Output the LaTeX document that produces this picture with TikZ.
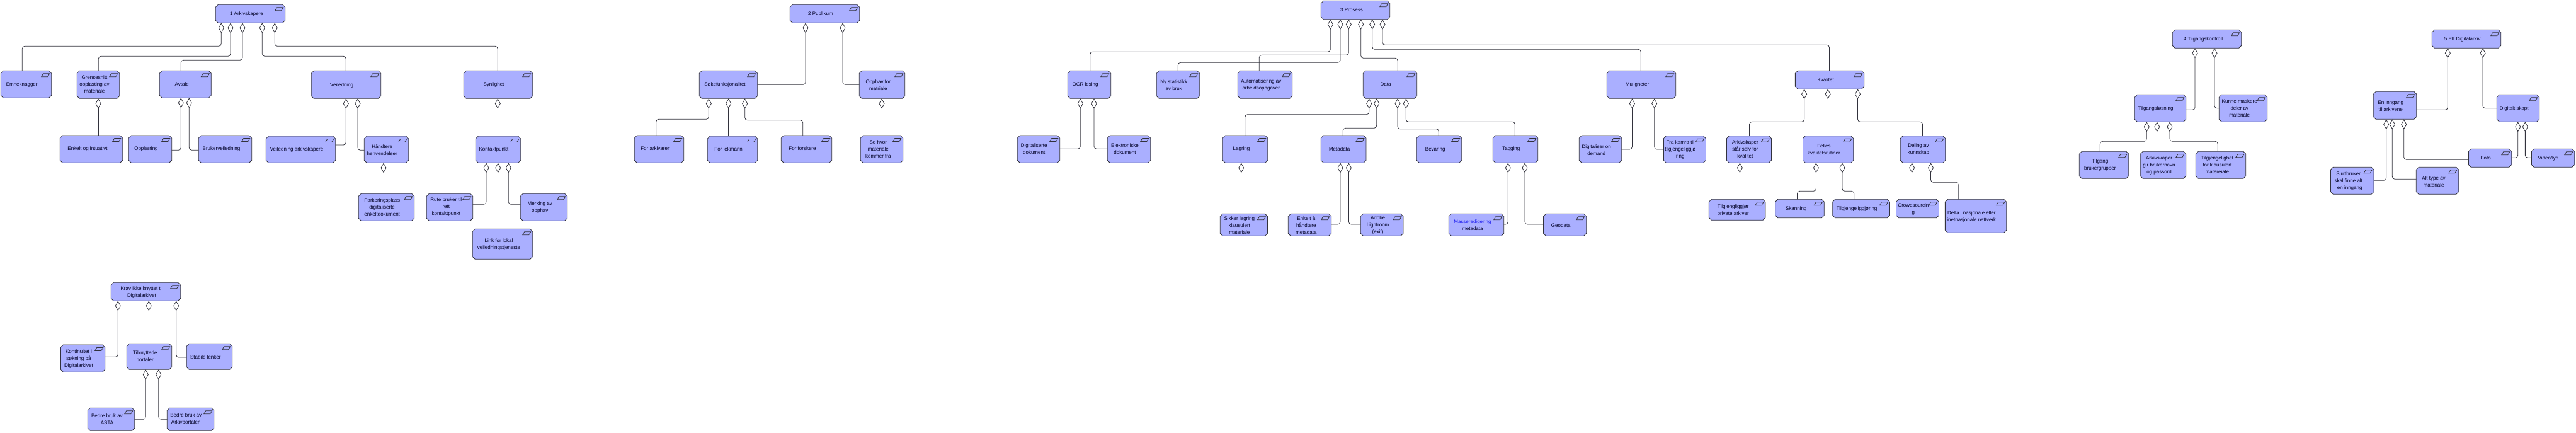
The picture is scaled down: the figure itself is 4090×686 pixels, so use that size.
\documentclass[tikz,border=0pt]{standalone}
\usepackage{fontspec}
\setmainfont{Liberation Sans}
\usepackage{xcolor}
\usetikzlibrary{arrows.meta,shapes.misc}

\definecolor{goalfill}{RGB}{170,175,255}
\definecolor{goalline}{RGB}{50,50,60}
\definecolor{linkblue}{RGB}{30,30,240}

\tikzset{
  wh/.style 2 args={minimum width=#1,minimum height=#2},
  goalbox/.style={chamfered rectangle,chamfered rectangle sep=4pt,
    inner sep=2pt,outer sep=0pt,draw=goalline,fill=goalfill,line width=.8pt,
    path picture={\draw[goalline,line width=.8pt] ([shift={(-16pt,-9.5pt)}]path picture bounding box.north east)
      -- ++(3pt,5pt) -- ++(10pt,0pt) -- ++(-3pt,-5pt) -- cycle;}},
  goaltext/.style={inner sep=0pt,align=center,text=black!85!blue,font=\fontsize{8}{11}\selectfont},
  agg/.style={draw=goalline,line width=.8pt,rounded corners=4pt,{Diamond[open,length=16pt,width=9pt]}-}
}

\begin{document}
\begin{tikzpicture}[x=1pt,y=-1pt]
\path[use as bounding box] (0,0) rectangle (4090,686);

\node[goalbox,wh={110.4}{29}] (arkiv) at (397.5,21.8) {};
\node[goaltext] (arkivt) at (391.5,22.3) {1 Arkivskapere};
\node[goalbox,wh={80.4}{43}] (emne) at (41.5,133.8) {};
\node[goaltext] (emnet) at (34.7,134) {Emneknagger};
\node[goalbox,wh={67.4}{44}] (gren) at (156,134.3) {};
\node[goaltext] (grent) at (150,134) {Grensesnitt\\opplasting av\\materiale};
\node[goalbox,wh={82}{43}] (avtale) at (294.3,133.8) {};
\node[goaltext] (avtalet) at (288.7,134) {Avtale};
\node[goalbox,wh={110.4}{44}] (veil) at (549.5,134.3) {};
\node[goaltext] (veilt) at (542.7,135) {Veiledning};
\node[goalbox,wh={109.4}{44}] (synl) at (791,134.3) {};
\node[goaltext] (synlt) at (784,134) {Synlighet};
\node[goalbox,wh={99.4}{43.3}] (enkelt) at (145,236.7) {};
\node[goaltext] (enkeltt) at (139,236.3) {Enkelt og intuativt};
\node[goalbox,wh={68.4}{43.3}] (oppl) at (238.5,236.7) {};
\node[goaltext] (opplt) at (232,236.3) {Opplæring};
\node[goalbox,wh={84.4}{43.3}] (bruk) at (357.5,236.7) {};
\node[goaltext] (brukt) at (351.5,236.3) {Brukerveiledning};
\node[goalbox,wh={110.4}{42.3}] (veilark) at (477.5,237.2) {};
\node[goaltext] (veilarkt) at (471,237) {Veiledning arkivskapere};
\node[goalbox,wh={70.4}{42.3}] (hand) at (613.5,237.2) {};
\node[goaltext] (handt) at (606.7,237.7) {Håndtere\\henvendelser};
\node[goalbox,wh={71.4}{42.3}] (kont) at (791,237.2) {};
\node[goaltext] (kontt) at (784,237) {Kontaktpunkt};
\node[goalbox,wh={88.4}{43}] (park) at (613.5,328.8) {};
\node[goaltext] (parkt) at (606.7,328.3) {Parkeringsplass\\digitaliserte\\enkeltdokument};
\node[goalbox,wh={73.4}{43}] (rute) at (714,328.8) {};
\node[goaltext] (rutet) at (708.3,328.3) {Rute bruker til\\rett\\kontaktpunkt};
\node[goalbox,wh={74.4}{43}] (merk) at (863.5,328.8) {};
\node[goaltext] (merkt) at (857.3,329) {Merking av\\opphav};
\node[goalbox,wh={95.4}{48}] (link) at (798,387.3) {};
\node[goaltext] (linkt) at (792,388) {Link for lokal\\veiledningstjeneste};

\draw[agg] (arkiv.south -| 351.3,0) |- (35.3,73.3) -- (emne.north -| 35.3,0);
\draw[agg] (arkiv.south -| 366,0) |- (156.3,89.3) -- (gren.north -| 156.3,0);
\draw[agg] (arkiv.south -| 385,0) |- (287.3,95.3) -- (avtale.north -| 287.3,0);
\draw[agg] (arkiv.south -| 416.3,0) |- (549.3,89.3) -- (veil.north -| 549.3,0);
\draw[agg] (arkiv.south -| 436.3,0) |- (790.3,73.3) -- (synl.north -| 790.3,0);
\draw[agg] (gren.south -| 156,0) -- (enkelt.north -| 156,0);
\draw[agg] (avtale.south -| 287.3,0) |- (oppl.east |- 0,238.3);
\draw[agg] (avtale.south -| 300.3,0) |- (bruk.west |- 0,238.3);
\draw[agg] (veil.south -| 549.3,0) |- (veilark.east |- 0,230);
\draw[agg] (veil.south -| 568,0) |- (hand.west |- 0,238.3);
\draw[agg] (hand.south -| 609,0) -- (park.north -| 609,0);
\draw[agg] (synl.south -| 790.3,0) -- (kont.north -| 790.3,0);
\draw[agg] (kont.south -| 772,0) |- (rute.east |- 0,324.3);
\draw[agg] (kont.south -| 790.7,0) -- (link.north -| 790.7,0);
\draw[agg] (kont.south -| 807.3,0) |- (merk.west |- 0,324.3);

\node[goalbox,wh={110.4}{29}] (publ) at (1309.5,21.8) {};
\node[goaltext] (publt) at (1303,22) {2 Publikum};
\node[goalbox,wh={92.4}{44}] (soke) at (1156.5,134.3) {};
\node[goaltext] (soket) at (1151,134) {Søkefunksjonalitet};
\node[goalbox,wh={72.4}{44}] (opph) at (1400.5,134.3) {};
\node[goaltext] (opphert) at (1394.3,134.8) {Opphav for\\matriale};
\node[goalbox,wh={78.4}{43.3}] (farki) at (1046.5,236.7) {};
\node[goaltext] (farkit) at (1040,236) {For arkivarer};
\node[goalbox,wh={79.4}{42.3}] (flek) at (1163,237.2) {};
\node[goaltext] (flekt) at (1156.7,237) {For lekmann};
\node[goalbox,wh={80.4}{43.3}] (ffor) at (1280.5,236.7) {};
\node[goaltext] (ffort) at (1274,236) {For forskere};
\node[goalbox,wh={67.4}{43.3}] (sehv) at (1400,236.7) {};
\node[goaltext] (sehvt) at (1394.3,236.6) {Se hvor\\materiale\\kommer fra};

\draw[agg] (publ.south -| 1279,0) |- (soke.east |- 0,134.3);
\draw[agg] (publ.south -| 1338,0) |- (opph.west |- 0,134.3);
\draw[agg] (soke.south -| 1125.3,0) |- (1041.7,189.3) -- (farki.north -| 1041.7,0);
\draw[agg] (soke.south -| 1156.7,0) -- (flek.north -| 1156.7,0);
\draw[agg] (soke.south -| 1182.7,0) |- (1274.7,190.7) -- (ffor.north -| 1274.7,0);
\draw[agg] (opph.south -| 1400,0) -- (sehv.north -| 1400,0);

\node[goalbox,wh={109.4}{29.4}] (pros) at (2152,16) {};
\node[goaltext] (prost) at (2146,16) {3 Prosess};
\node[goalbox,wh={68.4}{44}] (ocr) at (1729.5,134.3) {};
\node[goaltext] (ocrt) at (1723,134) {OCR lesing};
\node[goalbox,wh={68.4}{44}] (nyst) at (1870.5,134.3) {};
\node[goaltext] (nystt) at (1863.7,134.8) {Ny statistikk\\av bruk};
\node[goalbox,wh={86.4}{44}] (auto) at (2008.5,134.3) {};
\node[goaltext] (autot) at (2002.3,134.8) {Automatisering av\\arbeidsoppgaver};
\node[goalbox,wh={85.4}{44}] (data) at (2207,134.3) {};
\node[goaltext] (datat) at (2200,134) {Data};
\node[goalbox,wh={109.3}{44}] (muli) at (2606,134.3) {};
\node[goaltext] (mulit) at (2599.5,134) {Muligheter};
\node[goalbox,wh={109.3}{29}] (kval) at (2905,126.8) {};
\node[goaltext] (kvalt) at (2898.6,127) {Kvalitet};
\node[goalbox,wh={67.4}{43.3}] (digd) at (1649,236.7) {};
\node[goaltext] (digdt) at (1641.7,236.5) {Digitaliserte\\dokument};
\node[goalbox,wh={68.4}{43.3}] (elek) at (1792.5,236.7) {};
\node[goaltext] (elekt) at (1786,236.5) {Elektroniske\\dokument};
\node[goalbox,wh={71.4}{43.3}] (lagr) at (1977,236.7) {};
\node[goaltext] (lagrt) at (1971,236.3) {Lagring};
\node[goalbox,wh={71.7}{43.3}] (meta) at (2133.1,236.7) {};
\node[goaltext] (metat) at (2126.7,237) {Metadata};
\node[goalbox,wh={71.4}{43.3}] (beva) at (2285,236.7) {};
\node[goaltext] (bevat) at (2278.7,237) {Bevaring};
\node[goalbox,wh={71.4}{43.3}] (tagg) at (2406,236.7) {};
\node[goaltext] (taggt) at (2399.3,236.3) {Tagging};
\node[goalbox,wh={67.4}{43.3}] (dond) at (2541,236.7) {};
\node[goaltext] (dondt) at (2534.7,237.8) {Digitaliser on\\demand};
\node[goalbox,wh={67}{42.6}] (fra) at (2674.9,237) {};
\node[goaltext] (frat) at (2667.8,237) {Fra kamra til\\tilgjengeliggjø\\ring};
\node[goalbox,wh={71}{42.6}] (arks) at (2776.9,237) {};
\node[goaltext] (arkst) at (2770.9,237) {Arkivskaper\\står selv for\\kvalitet};
\node[goalbox,wh={80.4}{42.6}] (fell) at (2902.6,237) {};
\node[goaltext] (fellt) at (2895.9,236.8) {Felles\\kvalitetsrutiner};
\node[goalbox,wh={71.5}{42.6}] (deli) at (3053,237) {};
\node[goaltext] (delit) at (3045.9,236.8) {Deling av\\kunnskap};
\node[goalbox,wh={75.2}{35}] (sikk) at (1974.9,356.8) {};
\node[goaltext] (sikkt) at (1967.8,357.3) {Sikker lagring\\klausulert\\materiale};
\node[goalbox,wh={68.4}{35}] (enha) at (2079.5,356.8) {};
\node[goaltext] (enhat) at (2073.8,357.3) {Enkelt å\\håndtere\\metadata};
\node[goalbox,wh={67.7}{35}] (adob) at (2194.1,356.8) {};
\node[goaltext] (adobt) at (2187.6,357.3) {Adobe\\Lightroom\\(exif)};
\node[goalbox,wh={87.4}{35}] (mass) at (2344,356.8) {};
\node[goaltext] (masst) at (2337.9,357.3) {\textcolor{linkblue}{\underline{Masseredigering}}\\metadata};
\node[goalbox,wh={68.1}{35}] (geod) at (2484.6,356.8) {};
\node[goaltext] (geodt) at (2478.3,357.3) {Geodata};
\node[goalbox,wh={89.7}{33}] (tilp) at (2758.1,332.8) {};
\node[goaltext] (tilpt) at (2751.7,333.8) {Tilgjengliggjør\\private arkiver};
\node[goalbox,wh={77.6}{29.4}] (skan) at (2857.5,331) {};
\node[goaltext] (skant) at (2851.7,331.3) {Skanning};
\node[goalbox,wh={90.7}{29.4}] (tgjo) at (2955,331) {};
\node[goaltext] (tgjot) at (2948.1,331.3) {Tilgjengeliggjøring};
\node[goalbox,wh={67.9}{29.4}] (crow) at (3044.5,331) {};
\node[goaltext] (crowt) at (3037.9,331.8) {Crowdsourcin\\g};
\node[goalbox,wh={97.3}{53}] (delt) at (3137,342.8) {};
\node[goaltext] (deltt) at (3130.3,343.8) {Delta i nasjonale eller\\inetnasjonale nettverk};

\draw[agg] (pros.south -| 2112.3,0) |- (1730.7,82.3) -- (ocr.north -| 1730.7,0);
\draw[agg] (pros.south -| 2128,0) |- (1870.3,99.3) -- (nyst.north -| 1870.3,0);
\draw[agg] (pros.south -| 2141.3,0) |- (1999.3,87.3) -- (auto.north -| 1999.3,0);
\draw[agg] (pros.south -| 2160.7,0) |- (2219.3,92.3) -- (data.north -| 2219.3,0);
\draw[agg] (pros.south -| 2178.7,0) |- (2605.3,78.3) -- (muli.north -| 2605.3,0);
\draw[agg] (pros.south -| 2195,0) |- (2904.4,71.3) -- (kval.north -| 2904.4,0);
\draw[agg] (ocr.south -| 1715.3,0) |- (digd.east |- 0,236.3);
\draw[agg] (ocr.south -| 1737,0) |- (elek.west |- 0,236.3);
\draw[agg] (data.south -| 2173.7,0) |- (1976.7,181.7) -- (lagr.north -| 1976.7,0);
\draw[agg] (data.south -| 2185.7,0) |- (2132.3,203.3) -- (meta.north -| 2132.3,0);
\draw[agg] (data.south -| 2219,0) |- (2284.3,204.7) -- (beva.north -| 2284.3,0);
\draw[agg] (data.south -| 2232.3,0) |- (2405.3,193.3) -- (tagg.north -| 2405.3,0);
\draw[agg] (muli.south -| 2591.4,0) |- (dond.east |- 0,237);
\draw[agg] (muli.south -| 2626.7,0) |- (fra.west |- 0,237);
\draw[agg] (kval.south -| 2864.6,0) |- (2777.6,193.3) -- (arks.north -| 2777.6,0);
\draw[agg] (kval.south -| 2902.1,0) -- (fell.north -| 2902.1,0);
\draw[agg] (kval.south -| 2949.5,0) |- (3052.6,193.3) -- (deli.north -| 3052.6,0);
\draw[agg] (lagr.south -| 1970.7,0) -- (sikk.north -| 1970.7,0);
\draw[agg] (meta.south -| 2128,0) |- (enha.east |- 0,356);
\draw[agg] (meta.south -| 2141.4,0) |- (adob.west |- 0,356);
\draw[agg] (tagg.south -| 2394.3,0) |- (mass.east |- 0,356);
\draw[agg] (tagg.south -| 2421,0) |- (geod.west |- 0,356);
\draw[agg] (arks.south -| 2762.4,0) -- (tilp.north -| 2762.4,0);
\draw[agg] (fell.south -| 2883.4,0) |- (2853.5,303.3) -- (skan.north -| 2853.5,0);
\draw[agg] (fell.south -| 2924.9,0) |- (2943.7,303.3) -- (tgjo.north -| 2943.7,0);
\draw[agg] (deli.south -| 3035.6,0) -- (crow.north -| 3035.6,0);
\draw[agg] (deli.south -| 3065.5,0) |- (3109.3,289.3) -- (delt.north -| 3109.3,0);

\node[goalbox,wh={109.4}{29}] (tkon) at (3504,61.8) {};
\node[goaltext] (tkont) at (3498,62.3) {4 Tilgangskontroll};
\node[goalbox,wh={81.4}{43}] (tlos) at (3430,171.8) {};
\node[goaltext] (tlost) at (3422.7,172.3) {Tilgangsløsning};
\node[goalbox,wh={76.4}{43}] (kunn) at (3561.5,171.8) {};
\node[goaltext] (kunnt) at (3555.7,172) {Kunne maskere\\deler av\\materiale};
\node[goalbox,wh={78.4}{43}] (tbru) at (3340.5,261.8) {};
\node[goaltext] (tbrut) at (3334.3,262.3) {Tilgang\\brukergrupper};
\node[goalbox,wh={72.4}{43}] (tgir) at (3434.5,261.8) {};
\node[goaltext] (tgirt) at (3428,262) {Arkivskaper\\gir brukernavn\\og passord};
\node[goalbox,wh={79.4}{43}] (tkla) at (3526,261.8) {};
\node[goaltext] (tklat) at (3520.3,262) {Tilgjengelighet\\for klausulert\\matereiale};

\draw[agg] (tkon.south -| 3485,0) |- (tlos.east |- 0,174.3);
\draw[agg] (tkon.south -| 3516,0) |- (kunn.west |- 0,171.7);
\draw[agg] (tlos.south -| 3408.3,0) |- (3334.3,224.3) -- (tbru.north -| 3334.3,0);
\draw[agg] (tlos.south -| 3424.7,0) -- (tgir.north -| 3424.7,0);
\draw[agg] (tlos.south -| 3445,0) |- (3521.3,224.3) -- (tkla.north -| 3521.3,0);

\node[goalbox,wh={109.4}{29}] (ett) at (3916,61.8) {};
\node[goaltext] (ettt) at (3909.7,62) {5 Ett Digitalarkiv};
\node[goalbox,wh={68.4}{44}] (inng) at (3802.5,167.3) {};
\node[goaltext] (inngt) at (3795.7,167.7) {En inngang\\til arkivene};
\node[goalbox,wh={67.4}{43}] (dskap) at (3998,171.8) {};
\node[goaltext] (dskapt) at (3991.7,172.3) {Digitalt skapt};
\node[goalbox,wh={68.4}{29}] (foto) at (3953.5,250.8) {};
\node[goaltext] (fotot) at (3946.7,251) {Foto};
\node[goalbox,wh={68.4}{29}] (vido) at (4053.5,250.8) {};
\node[goaltext] (vidot) at (4046,251) {Video/lyd};
\node[goalbox,wh={68.7}{43}] (slut) at (3734.7,286.8) {};
\node[goaltext] (slutt) at (3728.7,287.3) {Sluttbruker\\skal finne alt\\i en inngang};
\node[goalbox,wh={67.4}{43}] (altt) at (3870,286.8) {};
\node[goaltext] (alttt) at (3864,287.7) {Alt type av\\materiale};

\draw[agg] (ett.south -| 3886.3,0) |- (inng.east |- 0,174.3);
\draw[agg] (ett.south -| 3942,0) |- (dskap.west |- 0,171.7);
\draw[agg] (inng.south -| 3788.7,0) |- (slut.east |- 0,286.3);
\draw[agg] (inng.south -| 3798.3,0) |- (altt.west |- 0,284.3);
\draw[agg] (inng.south -| 3816.7,0) |- (foto.west |- 0,253.3);
\draw[agg] (dskap.south -| 3997.7,0) |- (foto.east |- 0,250.3);
\draw[agg] (dskap.south -| 4009.3,0) |- (vido.west |- 0,250.3);

\node[goalbox,wh={110.4}{29}] (krav) at (231.5,462.8) {};
\node[goaltext] (kravt) at (225,463.7) {Krav ikke knyttet til\\Digitalarkivet};
\node[goalbox,wh={70.2}{43.3}] (kntu) at (131.6,568.7) {};
\node[goaltext] (kntut) at (125,569) {Kontinuitet i\\søkning på\\Digitalarkivet};
\node[goalbox,wh={71.4}{41}] (tknt) at (237,565.8) {};
\node[goaltext] (tkntt) at (230.3,565.7) {Tilknyttede\\portaler};
\node[goalbox,wh={72.4}{41}] (stab) at (332.5,565.8) {};
\node[goaltext] (stabt) at (326.3,567) {Stabile lenker};
\node[goalbox,wh={74.4}{36}] (asta) at (176.5,665.3) {};
\node[goaltext] (astat) at (170,665.3) {Bedre bruk av\\ASTA};
\node[goalbox,wh={74.4}{36}] (bpor) at (302.5,665.3) {};
\node[goaltext] (bport) at (295.3,665.3) {Bedre bruk av\\Arkivportalen};

\draw[agg] (krav.south -| 187.3,0) |- (kntu.east |- 0,566.3);
\draw[agg] (krav.south -| 236.3,0) -- (tknt.north -| 236.3,0);
\draw[agg] (krav.south -| 279.7,0) |- (stab.west |- 0,567);
\draw[agg] (tknt.south -| 231.3,0) |- (asta.east |- 0,665.3);
\draw[agg] (tknt.south -| 251.7,0) |- (bpor.west |- 0,665.3);
\end{tikzpicture}
\end{document}
